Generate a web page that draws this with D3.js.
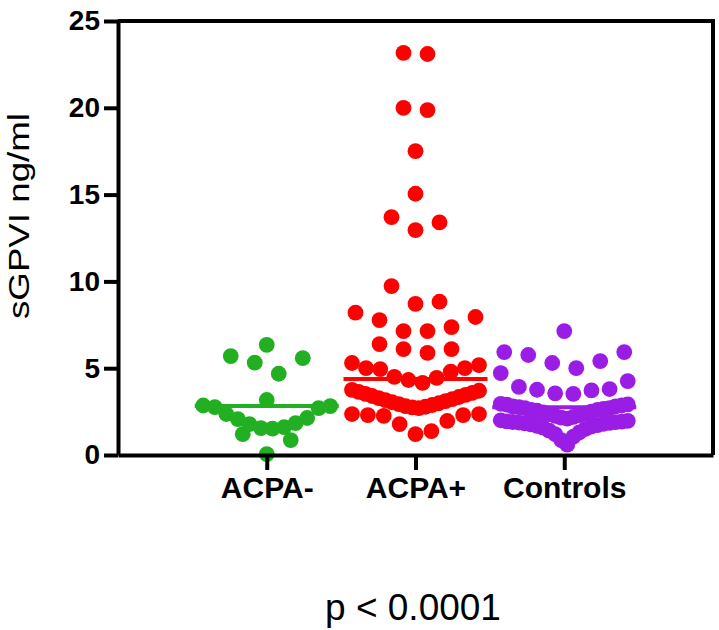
<!DOCTYPE html>
<html><head><meta charset="utf-8">
<script src="https://cdn.jsdelivr.net/npm/d3@7"></script>
<style>html,body{margin:0;padding:0;background:#fff;} svg{display:block;}</style>
</head><body>
<svg id="chart" width="719" height="630"></svg>
<script>
// ---------- data ----------
const categories = ["ACPA-", "ACPA+", "Controls"];
const groupColors = ["#22b022", "#ff0000", "#9a1de6"];
const acpaNeg = [0.05, 0.86, 1.2, 1.52, 1.55, 1.6, 1.78, 1.84, 2.07, 2.13, 2.36, 2.7, 2.76, 2.82, 2.85,
  3.17, 4.68, 5.32, 5.58, 5.7, 6.34];
const acpaPos = [1.2, 1.38, 1.78, 1.96, 2.25, 2.3, 2.3, 2.36, 2.36,
  2.7, 2.74, 2.78, 2.82, 2.88, 2.93, 2.98, 3.04, 3.1, 3.16, 3.22, 3.28, 3.34, 3.4, 3.46, 3.52, 3.58, 3.64, 3.7, 3.75,
  4.15, 4.32, 4.44, 4.5, 4.8, 4.95, 5.0, 5.0, 5.18, 5.3,
  5.88, 6.1, 6.1, 6.39,
  7.14, 7.14, 7.37, 7.77, 7.95, 8.2,
  8.71, 8.83, 9.73,
  12.95, 13.4, 13.7, 15.05, 17.5, 19.87, 20.0, 23.1, 23.16];
const controls = [0.6, 0.85, 1.05, 1.2, 1.3, 1.4, 1.5, 1.58, 1.64, 1.68, 1.72, 1.76, 1.8, 1.82, 1.85, 1.87, 1.89, 1.9, 1.92, 1.94, 1.97, 2.0,
  2.1, 2.15, 2.2, 2.25, 2.3, 2.35, 2.4, 2.45, 2.5, 2.55, 2.6, 2.6, 2.65, 2.7, 2.7, 2.75, 2.8, 2.8, 2.85, 2.9, 2.92, 2.95,
  3.52, 3.55, 3.72, 3.76, 3.8, 3.92, 4.26, 4.72,
  5.0, 5.3, 5.41, 5.76, 5.93, 5.93, 7.14];
const centerLines = [2.82, 4.38, 2.75];
const yTicks = [0, 5, 10, 15, 20, 25];
const yTitle = "sGPVI ng/ml";
const pText = "p < 0.0001";

// ---------- layout ----------
const FONT = "'Liberation Sans', Arial, Helvetica, sans-serif";
const L = 118, R = 713, T = 21, B = 455;
const rowSpan = 1.45, slot = 24, maxSpread = 127, dotR = 7.9, lineHalf = 72;

const svg = d3.select("#chart");
const y = d3.scaleLinear().domain([0, 25]).range([B, T]);
const x = d3.scalePoint().domain(categories).range([L, R]).padding(1);

function layoutGroup(values, cx) {
  const minV = d3.min(values);
  const rows = d3.groups(values, v => Math.floor((v - minV) / rowSpan + 1e-9));
  const pts = [];
  rows.forEach(([k, vs]) => {
    vs = vs.slice().sort(d3.ascending);
    const n = vs.length;
    const step = n > 1 ? Math.min(slot, maxSpread / (n - 1)) : 0;
    const offs = d3.range(n).map(i => (i - (n - 1) / 2) * step);
    offs.sort((a, b) => (Math.abs(a) - Math.abs(b)) || (b - a));
    vs.forEach((v, i) => pts.push({ v, x: cx + offs[i] }));
  });
  return pts;
}

const groups = [acpaNeg, acpaPos, controls];
groups.forEach((vals, gi) => {
  const cx = x(categories[gi]);
  const pts = layoutGroup(vals, cx);
  svg.append("g").selectAll("circle").data(pts).join("circle")
    .attr("cx", d => d.x).attr("cy", d => y(d.v)).attr("r", dotR)
    .attr("fill", groupColors[gi]);
  svg.append("line")
    .attr("x1", cx - lineHalf).attr("x2", cx + lineHalf)
    .attr("y1", y(centerLines[gi])).attr("y2", y(centerLines[gi]))
    .attr("stroke", groupColors[gi]).attr("stroke-width", 4);
});

// frame top/right
svg.append("line").attr("x1", L).attr("x2", R + 2).attr("y1", T).attr("y2", T)
  .attr("stroke", "#000").attr("stroke-width", 4);
svg.append("line").attr("x1", R).attr("x2", R).attr("y1", T).attr("y2", B)
  .attr("stroke", "#000").attr("stroke-width", 4);

// y axis
const gy = svg.append("g").attr("transform", `translate(${L},0)`)
  .call(d3.axisLeft(y).tickValues(yTicks).tickSize(14).tickSizeOuter(0).tickPadding(4));
gy.select(".domain").attr("stroke", "#000").attr("stroke-width", 4);
gy.selectAll(".tick line").attr("stroke", "#000").attr("stroke-width", 4);
gy.selectAll(".tick text").attr("font-family", FONT).attr("font-size", 28)
  .attr("font-weight", "bold").attr("fill", "#000");

// x axis
const gx = svg.append("g").attr("transform", `translate(0,${B})`)
  .call(d3.axisBottom(x).tickSize(15).tickSizeOuter(0));
gx.select(".domain").attr("stroke", "#000").attr("stroke-width", 4);
gx.selectAll(".tick line").attr("stroke", "#000").attr("stroke-width", 4);
gx.selectAll(".tick text").attr("font-family", FONT).attr("font-size", 30)
  .attr("font-weight", "bold").attr("fill", "#000").attr("y", 43).attr("dy", "0");

// y title
svg.append("text").attr("transform", "translate(29,216) rotate(-90)")
  .attr("text-anchor", "middle").attr("font-family", FONT).attr("font-size", 29)
  .attr("textLength", 206).attr("lengthAdjust", "spacingAndGlyphs")
  .attr("fill", "#000").text(yTitle);

// p value
svg.append("text").attr("x", 413).attr("y", 620).attr("text-anchor", "middle")
  .attr("font-family", FONT).attr("font-size", 37).attr("fill", "#000").text(pText);
</script>
</body></html>
